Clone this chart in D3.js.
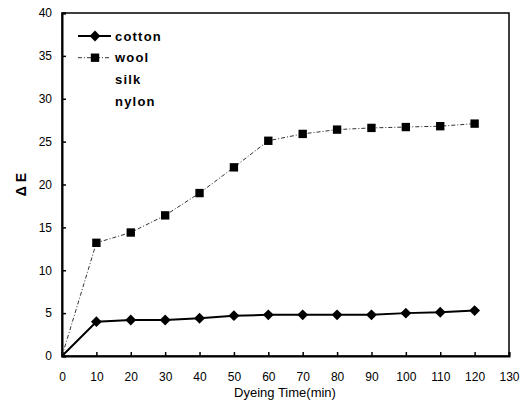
<!DOCTYPE html>
<html>
<head>
<meta charset="UTF-8">
<script src="https://d3js.org/d3.v7.min.js"></script>
<style>
  body { margin: 0; background: #fff; }
  svg { font-family: Arial, "Liberation Sans", sans-serif; }
</style>
</head>
<body>
<div id="chart"></div>
<script>
// data
const times = [0, 10, 20, 30, 40, 50, 60, 70, 80, 90, 100, 110, 120];
const cotton = [0, 4.0, 4.2, 4.2, 4.4, 4.7, 4.8, 4.8, 4.8, 4.8, 5.0, 5.1, 5.3];
const wool = [0, 13.2, 14.4, 16.4, 19.0, 22.0, 25.1, 25.9, 26.4, 26.6, 26.7, 26.8, 27.1];
const xTicks = [0, 10, 20, 30, 40, 50, 60, 70, 80, 90, 100, 110, 120, 130];
const yTicks = [0, 5, 10, 15, 20, 25, 30, 35, 40];
const legendNames = ["cotton", "wool", "silk", "nylon"];

const width = 521, height = 411;
const mLeft = 62, mRight = 509, mTop = 13, mBottom = 356;

const svg = d3.select("#chart").append("svg")
  .attr("width", width).attr("height", height);

const x = d3.scaleLinear().domain([0, 130]).range([mLeft, mRight]);
const y = d3.scaleLinear().domain([0, 40]).range([mBottom, mTop]);

// frame
svg.append("rect")
  .attr("x", mLeft).attr("y", mTop)
  .attr("width", mRight - mLeft).attr("height", mBottom - mTop)
  .attr("fill", "none").attr("stroke", "#000").attr("stroke-width", 1.5);

// axes with inward ticks
const xAxis = svg.append("g").attr("transform", `translate(0,${mBottom})`)
  .call(d3.axisBottom(x).tickValues(xTicks).tickSize(-4).tickPadding(14).tickFormat(d3.format("d")));
const yAxis = svg.append("g").attr("transform", `translate(${mLeft},0)`)
  .call(d3.axisLeft(y).tickValues(yTicks).tickSize(-4).tickPadding(10).tickFormat(d3.format("d")));
[xAxis, yAxis].forEach(a => {
  a.select(".domain").attr("stroke", "#000").attr("stroke-width", 2);
  a.selectAll(".tick line").attr("stroke", "#000").attr("stroke-width", 1.5);
  a.selectAll(".tick text").attr("font-size", 12).attr("fill", "#000")
    .attr("font-family", "Arial, sans-serif");
});
xAxis.selectAll(".tick text").attr("dy", "0.9em");

// lines
const line = d3.line().x((d, i) => x(times[i])).y(d => y(d));

svg.append("path").datum(wool)
  .attr("d", line).attr("fill", "none")
  .attr("stroke", "#333").attr("stroke-width", 1)
  .attr("stroke-dasharray", "4,2,1,2");

svg.append("path").datum(cotton)
  .attr("d", line).attr("fill", "none")
  .attr("stroke", "#000").attr("stroke-width", 2);

const diamond = d3.symbol().type(d3.symbolDiamond2).size(75);
const square = d3.symbol().type(d3.symbolSquare).size(70);

svg.append("g").selectAll("path")
  .data(cotton.slice(1))
  .join("path")
  .attr("d", diamond)
  .attr("transform", (d, i) => `translate(${x(times[i + 1])},${y(d)})`)
  .attr("fill", "#000");

svg.append("g").selectAll("path")
  .data(wool.slice(1))
  .join("path")
  .attr("d", square)
  .attr("transform", (d, i) => `translate(${x(times[i + 1])},${y(d)})`)
  .attr("fill", "#000");

// legend
const lg = svg.append("g");
legendNames.forEach((name, i) => {
  const ly = 36 + i * 21.7;
  if (i === 0) {
    lg.append("line").attr("x1", 78).attr("x2", 111).attr("y1", ly).attr("y2", ly)
      .attr("stroke", "#000").attr("stroke-width", 2);
    lg.append("path").attr("d", diamond).attr("transform", `translate(95,${ly})`);
  } else if (i === 1) {
    lg.append("line").attr("x1", 78).attr("x2", 111).attr("y1", ly).attr("y2", ly)
      .attr("stroke", "#333").attr("stroke-width", 1).attr("stroke-dasharray", "4,2,1,2");
    lg.append("path").attr("d", square).attr("transform", `translate(95,${ly})`);
  }
  lg.append("text").attr("x", 115).attr("y", ly).attr("dy", "0.35em")
    .attr("font-size", 13).attr("font-weight", "bold").attr("letter-spacing", 1.2)
    .text(name);
});

// axis titles
svg.append("text")
  .attr("transform", `translate(21,${(mTop + mBottom) / 2}) rotate(-90)`)
  .attr("text-anchor", "middle").attr("dy", "0.35em")
  .attr("font-size", 14).attr("font-weight", "bold")
  .text("Δ E");

svg.append("text")
  .attr("x", 285).attr("y", 397)
  .attr("text-anchor", "middle")
  .attr("font-size", 13)
  .text("Dyeing Time(min)");
</script>
</body>
</html>
